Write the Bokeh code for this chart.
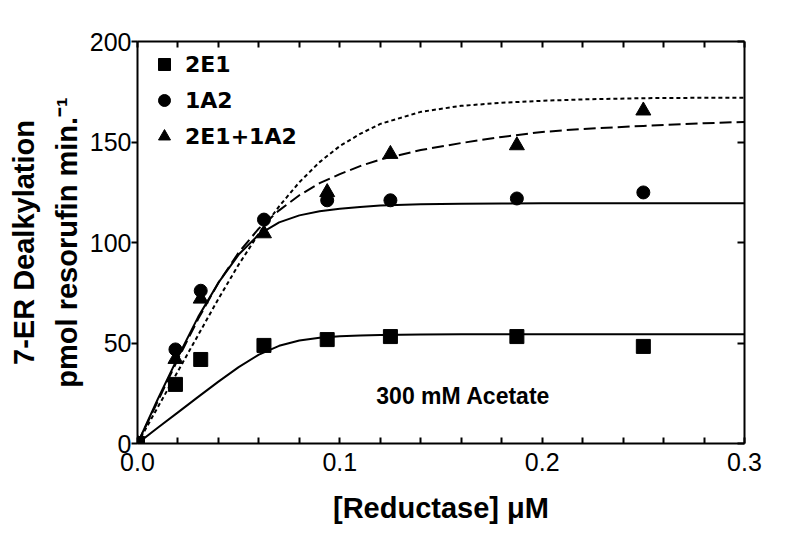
from bokeh.plotting import figure
from bokeh.models import (LinearAxis, FixedTicker, Legend, LegendItem,
                          Label, PrintfTickFormatter, CustomJSTickFormatter, Range1d)
from bokeh.embed import file_html
from bokeh.resources import INLINE

# ---- data ----
conc = [0, 0.01875, 0.03125, 0.0625, 0.09375, 0.125, 0.1875, 0.25]
rate_2e1 = [0, 29.4, 41.8, 48.8, 51.7, 53.2, 53.2, 48.3]
rate_1a2 = [0, 46.8, 76.0, 111.4, 121.0, 121.0, 121.9, 124.9]
rate_mix = [0, 42.0, 72.0, 104.5, 125.0, 144.0, 148.3, 165.6]

fit_x = [0, 0.01, 0.02, 0.03, 0.04, 0.05, 0.06, 0.07, 0.08, 0.09, 0.10,
         0.11, 0.12, 0.14, 0.16, 0.18, 0.20, 0.22, 0.25, 0.28, 0.30]
fit_2e1 = [0, 7.8, 15.5, 23.2, 30.8, 38.0, 44.2, 48.6, 51.2, 52.6, 53.3,
           53.7, 54.0, 54.2, 54.3, 54.3, 54.3, 54.3, 54.3, 54.3, 54.3]
fit_1a2 = [0, 22, 43, 63, 80, 94, 104, 110, 113.5, 115.5, 116.8,
           117.7, 118.4, 119.0, 119.3, 119.4, 119.5, 119.5, 119.5, 119.5, 119.5]
fit_mix = [0, 21, 42, 62, 80, 95, 107, 116, 123.5, 129.5, 134,
           138, 141.3, 146, 149.5, 152.5, 155, 156.5, 158, 159.3, 160]
fit_mix_sum = [0, 18, 36, 54, 72, 89, 104.5, 118, 130, 140, 148,
               154, 159, 165, 168, 169.5, 170.5, 171.2, 171.8, 172, 172]

series_labels = ["2E1", "1A2", "2E1+1A2"]
x_ticks = [0.0, 0.1, 0.2, 0.3]
x_minor_ticks = [0.02, 0.04, 0.06, 0.08, 0.12, 0.14, 0.16, 0.18,
                 0.22, 0.24, 0.26, 0.28]
y_ticks = [0, 50, 100, 150, 200]

FONT = "Liberation Sans"

p = figure(frame_width=607, frame_height=402,
           x_range=Range1d(0, 0.3), y_range=Range1d(0, 200),
           output_backend="svg", toolbar_location=None,
           min_border_left=137, min_border_right=52,
           min_border_top=41, min_border_bottom=100)
p.xgrid.visible = False
p.ygrid.visible = False
p.outline_line_color = None
p.background_fill_color = "white"
p.border_fill_color = "white"

# bottom axis
xa = p.xaxis[0]
xa.ticker = FixedTicker(ticks=x_ticks, minor_ticks=x_minor_ticks)
xa.formatter = PrintfTickFormatter(format="%.1f")
xa.major_tick_in = 6
xa.major_tick_out = 0
xa.minor_tick_in = 6
xa.minor_tick_out = 0
xa.axis_line_width = 2
xa.major_tick_line_width = 2
xa.minor_tick_line_width = 2
xa.axis_line_color = "black"
xa.major_tick_line_color = "black"
xa.minor_tick_line_color = "black"
xa.major_label_text_font = FONT
xa.major_label_text_font_size = "25px"
xa.major_label_text_color = "black"
xa.major_label_standoff = 9
xa.axis_label = "[Reductase] μM"
xa.axis_label_text_font = FONT
xa.axis_label_text_font_style = "bold"
xa.axis_label_text_font_size = "29px"
xa.axis_label_text_color = "black"
xa.axis_label_standoff = 18

# left axis
ya = p.yaxis[0]
ya.ticker = FixedTicker(ticks=y_ticks)
ya.major_tick_in = 0
ya.major_tick_out = 6
ya.minor_tick_line_color = None
ya.axis_line_width = 2
ya.major_tick_line_width = 2
ya.axis_line_color = "black"
ya.major_tick_line_color = "black"
ya.major_label_text_font = FONT
ya.major_label_text_font_size = "25px"
ya.major_label_text_color = "black"
ya.major_label_standoff = 0
ya.axis_label = "7-ER Dealkylation\npmol resorufin min.⁻¹"
ya.axis_label_text_font = FONT
ya.axis_label_text_font_style = "bold"
ya.axis_label_text_font_size = "29px"
ya.axis_label_text_color = "black"
ya.axis_label_text_line_height = 1.35
ya.axis_label_standoff = 4

empty = CustomJSTickFormatter(code="return ''")

top = LinearAxis(ticker=FixedTicker(ticks=x_ticks + x_minor_ticks),
                 formatter=empty, major_tick_in=6, major_tick_out=0,
                 minor_tick_line_color=None, axis_line_width=2,
                 major_tick_line_width=2, axis_line_color="black",
                 major_tick_line_color="black", major_label_standoff=0)
p.add_layout(top, "above")

right = LinearAxis(ticker=FixedTicker(ticks=y_ticks), formatter=empty,
                   major_tick_in=7, major_tick_out=0,
                   minor_tick_line_color=None, axis_line_width=2,
                   major_tick_line_width=2, axis_line_color="black",
                   major_tick_line_color="black", major_label_standoff=0)
p.add_layout(right, "right")

# fitted curves
p.line(fit_x, fit_2e1, line_color="black", line_width=2)
p.line(fit_x, fit_1a2, line_color="black", line_width=2)
p.line(fit_x, fit_mix, line_color="black", line_width=2, line_dash="12 5")
p.line(fit_x, fit_mix_sum, line_color="black", line_width=2, line_dash="4 3")

# data points
r_sq = p.scatter(conc, rate_2e1, marker="square", size=14, color="black")
r_ci = p.scatter(conc, rate_1a2, marker="circle", size=13, color="black")
r_tr = p.scatter(conc, rate_mix, marker="triangle", size=15, color="black")

legend = Legend(items=[LegendItem(label=series_labels[0], renderers=[r_sq]),
                       LegendItem(label=series_labels[1], renderers=[r_ci]),
                       LegendItem(label=series_labels[2], renderers=[r_tr])],
                location="top_left", margin=8, padding=8,
                glyph_width=38, glyph_height=30, label_height=30,
                spacing=6, label_standoff=2,
                border_line_color=None, background_fill_alpha=0,
                label_text_font="DejaVu Sans", label_text_font_style="bold",
                label_text_font_size="22px", label_text_color="black")
p.add_layout(legend)

# annotation
p.add_layout(Label(x=0.161, y=23.4, text="300 mM Acetate",
                   text_align="center", text_baseline="middle",
                   text_font=FONT, text_font_style="bold",
                   text_font_size="23px", text_color="black"))

open("out.html", "w").write(file_html(p, INLINE))
